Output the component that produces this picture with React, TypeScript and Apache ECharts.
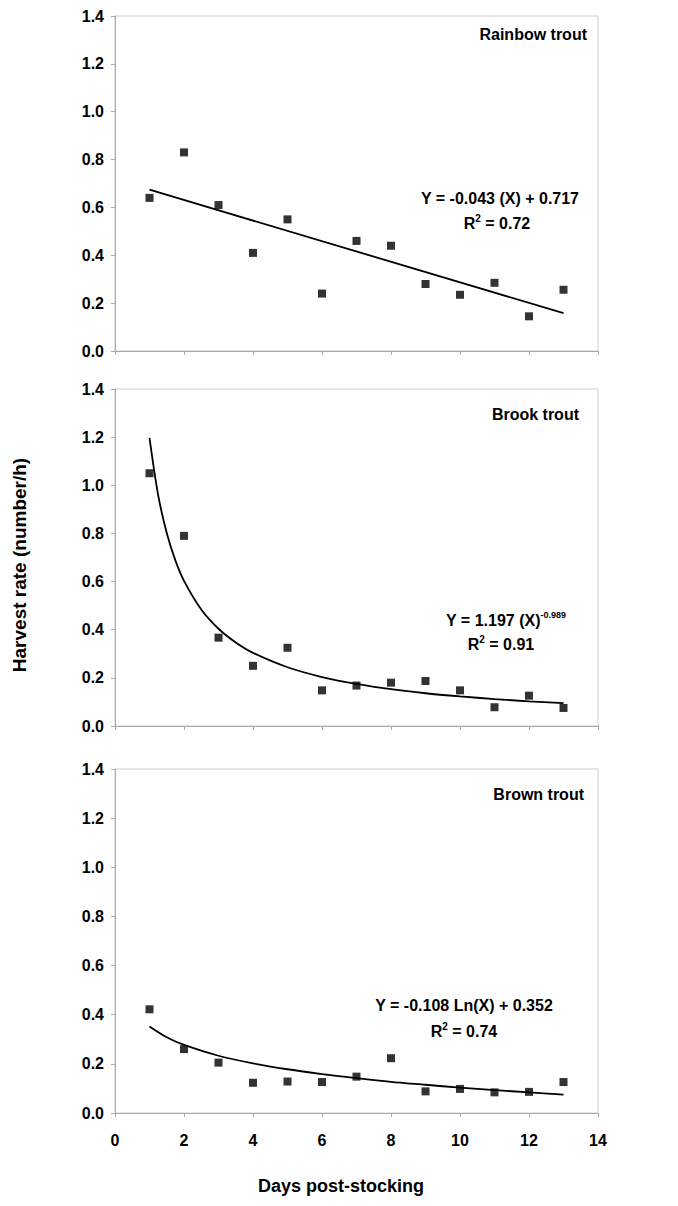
import React, { useEffect, useRef } from "react";
import * as echarts from "echarts";

const days = [1, 2, 3, 4, 5, 6, 7, 8, 9, 10, 11, 12, 13];
const rainbowRate = [0.64, 0.83, 0.61, 0.41, 0.55, 0.24, 0.46, 0.44, 0.28, 0.235, 0.285, 0.145, 0.256];
const brookRate = [1.05, 0.79, 0.367, 0.25, 0.325, 0.148, 0.168, 0.18, 0.187, 0.148, 0.078, 0.126, 0.075];
const brownRate = [0.422, 0.26, 0.205, 0.123, 0.128, 0.126, 0.148, 0.223, 0.088, 0.098, 0.084, 0.086, 0.126];

const rainbowTrendX = [1, 13];
const rainbowTrendY = [0.674, 0.158];
const brookTrendX = [1, 1.25, 1.5, 1.75, 2, 2.5, 3, 3.5, 4, 5, 6, 7, 8, 9, 10, 11, 12, 13];
const brookTrendY = [1.197, 0.96, 0.802, 0.688, 0.603, 0.484, 0.404, 0.347, 0.304, 0.244, 0.2035, 0.175, 0.153, 0.136, 0.123, 0.112, 0.1025, 0.095];
const brownTrendX = [1, 1.5, 2, 3, 4, 5, 6, 7, 8, 9, 10, 11, 12, 13];
const brownTrendY = [0.352, 0.308, 0.277, 0.233, 0.202, 0.178, 0.1585, 0.142, 0.127, 0.115, 0.103, 0.093, 0.084, 0.075];

const panelNames = ["Rainbow trout", "Brook trout", "Brown trout"];
const yTickLabels = ["0.0", "0.2", "0.4", "0.6", "0.8", "1.0", "1.2", "1.4"];
const xTickLabels = ["0", "2", "4", "6", "8", "10", "12", "14"];

const FONT = "'Liberation Sans', Arial, sans-serif";

export default function App() {
  const ref = useRef<HTMLDivElement>(null);
  useEffect(() => {
    if (!ref.current) return;
    const chart = echarts.init(ref.current, undefined, { renderer: "svg" });
    const grids = [
      { left: 107, top: 6, width: 483, height: 337 },
      { left: 107, top: 381, width: 483, height: 337 },
      { left: 107, top: 761, width: 483, height: 344 },
    ];
    const pair = (xs: number[], ys: number[]) => xs.map((x, i) => [x, ys[i]]);
    const dataSets = [rainbowRate, brookRate, brownRate];
    const trends = [
      { d: pair(rainbowTrendX, rainbowTrendY), smooth: false },
      { d: pair(brookTrendX, brookTrendY), smooth: 0.3 },
      { d: pair(brownTrendX, brownTrendY), smooth: 0.3 },
    ];
    const series: any[] = [];
    dataSets.forEach((vals, i) => {
      series.push({
        type: "line",
        xAxisIndex: i,
        yAxisIndex: i,
        data: trends[i].d,
        smooth: trends[i].smooth,
        showSymbol: false,
        symbol: "none",
        lineStyle: { color: "#000", width: 1.8 },
        z: 2,
      });
      series.push({
        type: "scatter",
        xAxisIndex: i,
        yAxisIndex: i,
        data: pair(days, vals),
        symbol: "rect",
        symbolSize: 8,
        itemStyle: { color: "#000" },
        z: 3,
      });
    });
    const labelStyle = { fontFamily: FONT, fontWeight: "bold" as const, fontSize: 16, color: "#000" };
    const richEq = {
      m: { font: `bold 16px ${FONT}`, fill: "#000", lineHeight: 18, verticalAlign: "bottom" },
      s: { font: `bold 10px ${FONT}`, fill: "#000", lineHeight: 18, verticalAlign: "top" },
    };
    const titleStyle = (text: string) => ({
      text,
      font: `bold 16px ${FONT}`,
      fill: "#000",
      align: "right",
      verticalAlign: "middle",
    });
    const option: any = {
      animation: false,
      grid: grids.map((g) => ({ ...g, show: true, borderColor: "#cfcfcf", borderWidth: 1, backgroundColor: "#fff" })),
      xAxis: grids.map((_, i) => ({
        type: "value",
        gridIndex: i,
        min: 0,
        max: 14,
        interval: 2,
        splitLine: { show: false },
        axisLine: { show: true, onZero: false, lineStyle: { color: "#a8a8a8", width: 1 } },
        axisTick: { show: true, inside: false, length: 4, lineStyle: { color: "#a8a8a8" } },
        axisLabel: {
          show: i === 2,
          margin: 19,
          ...labelStyle,
          formatter: (v: number) => xTickLabels[Math.round(v / 2)] ?? "",
        },
      })),
      yAxis: grids.map((_, i) => ({
        type: "value",
        gridIndex: i,
        min: 0,
        max: 1.4,
        interval: 0.2,
        splitLine: { show: false },
        axisLine: { show: true, lineStyle: { color: "#a8a8a8", width: 1 } },
        axisTick: { show: true, inside: false, length: 4, lineStyle: { color: "#a8a8a8" } },
        axisLabel: {
          margin: 11,
          ...labelStyle,
          formatter: (v: number) => yTickLabels[Math.round(v / 0.2)] ?? "",
        },
      })),
      series,
      graphic: [
        { type: "text", x: 579, y: 26, style: titleStyle(panelNames[0]) },
        { type: "text", x: 571, y: 406, style: titleStyle(panelNames[1]) },
        { type: "text", x: 576, y: 786, style: titleStyle(panelNames[2]) },
        {
          type: "text",
          x: 492,
          y: 190,
          style: { text: "Y = -0.043 (X) + 0.717", font: `bold 16px ${FONT}`, fill: "#000", align: "center", verticalAlign: "middle" },
        },
        {
          type: "text",
          x: 489,
          y: 214,
          style: { text: "{m|R}{s|2}{m| = 0.72}", align: "center", verticalAlign: "middle", rich: richEq },
        },
        {
          type: "text",
          x: 498,
          y: 611,
          style: {
            text: "{m|Y = 1.197 (X)}{s|-0.989}",
            align: "center",
            verticalAlign: "middle",
            rich: {
              m: richEq.m,
              s: { font: `bold 9px ${FONT}`, fill: "#000", lineHeight: 18, verticalAlign: "top" },
            },
          },
        },
        {
          type: "text",
          x: 493,
          y: 635,
          style: { text: "{m|R}{s|2}{m| = 0.91}", align: "center", verticalAlign: "middle", rich: richEq },
        },
        {
          type: "text",
          x: 456,
          y: 997,
          style: { text: "Y = -0.108 Ln(X) + 0.352", font: `bold 16px ${FONT}`, fill: "#000", align: "center", verticalAlign: "middle" },
        },
        {
          type: "text",
          x: 456,
          y: 1022,
          style: { text: "{m|R}{s|2}{m| = 0.74}", align: "center", verticalAlign: "middle", rich: richEq },
        },
        {
          type: "text",
          x: 333,
          y: 1178,
          style: { text: "Days post-stocking", font: `bold 18px ${FONT}`, fill: "#000", align: "center", verticalAlign: "middle" },
        },
        {
          type: "text",
          x: 11,
          y: 557,
          rotation: Math.PI / 2,
          style: { text: "Harvest rate (number/h)", font: `bold 19px ${FONT}`, fill: "#000", align: "center", verticalAlign: "middle" },
        },
      ],
    };
    chart.setOption(option);
    return () => chart.dispose();
  }, []);
  return <div ref={ref} style={{ width: 662, height: 1196 }} />;
}
